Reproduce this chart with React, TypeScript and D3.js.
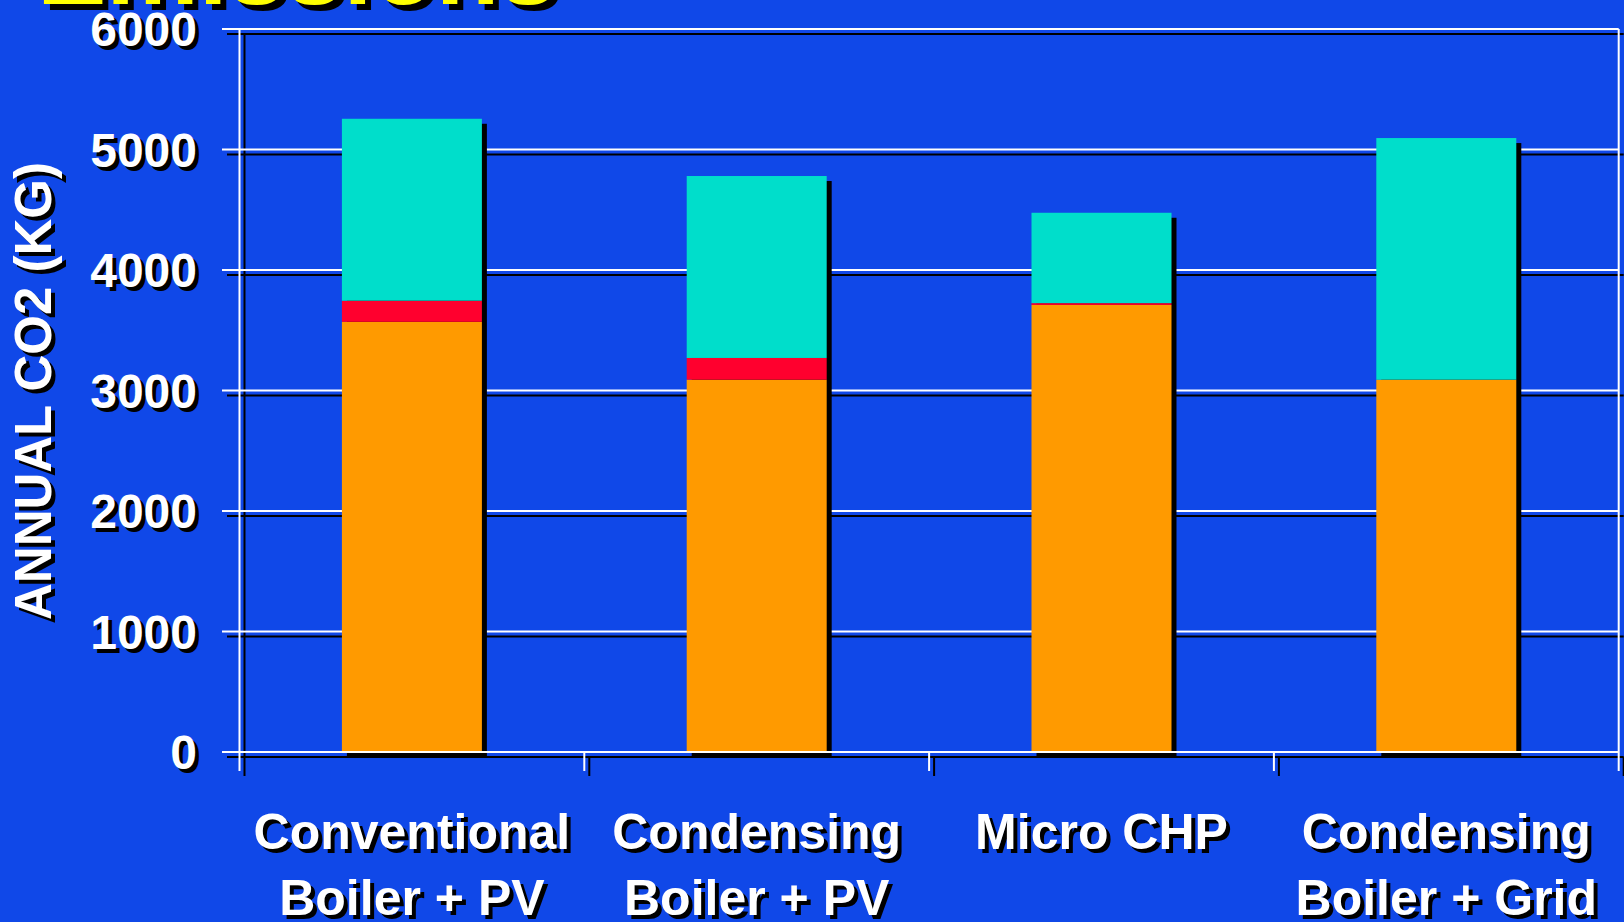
import React, { useEffect } from "react";
import * as d3 from "d3";

// categories (x axis, two-line labels)
const categories: string[][] = [
  ["Conventional", "Boiler + PV"],
  ["Condensing", "Boiler + PV"],
  ["Micro CHP"],
  ["Condensing", "Boiler + Grid"],
];

// stacked series, bottom to top (kg CO2 / year)
const heatingGas = [3570, 3090, 3710, 3090];
const auxiliary = [175, 180, 15, 0];
const electricity = [1510, 1510, 750, 2005];

const seriesColors = ["#FF9A00", "#FF002E", "#00DECB"];
const yTicks = [0, 1000, 2000, 3000, 4000, 5000, 6000];

const title = "Emissions";
const yTitle = "ANNUAL CO2 (KG)";

const W = 1624;
const H = 922;
const BG = "#1048E8";
const FONT = "'Liberation Sans', Arial, sans-serif";

const App: React.FC = () => {
  useEffect(() => {
    document.body.style.margin = "0";
    document.body.style.overflow = "hidden";
  }, []);

  const idx = categories.map((_, i) => String(i));
  const plotLeft = 239.5;
  const plotRight = 1618.7;
  const x = d3.scaleBand<string>().domain(idx).range([plotLeft, plotRight]).paddingInner(0.594).paddingOuter(0.297);
  const xEdge = d3.scaleBand<string>().domain(idx).range([plotLeft, plotRight]).padding(0);
  const y = d3.scaleLinear().domain([0, 6000]).range([752, 29]);

  const rows = idx.map((k, i) => ({ k, a: heatingGas[i], b: auxiliary[i], c: electricity[i] }));
  const stack = d3.stack<any>().keys(["a", "b", "c"])(rows);

  const edges = [...idx.map((k) => xEdge(k)!), plotRight];
  const sh = 5;

  const shadowText = (props: any, text: string, key: string, off = 4) => (
    <g key={key}>
      <text {...props} transform={`translate(${off},${off}) ${props.transform || ""}`} fill="#000">
        {text}
      </text>
      <text {...props} fill={props.fill || "#fff"}>
        {text}
      </text>
    </g>
  );

  return (
    <svg width={W} height={H} style={{ display: "block" }} fontFamily={FONT} fontWeight="bold">
      <rect width={W} height={H} fill={BG} />

      {/* title, cut off at top */}
      {shadowText({ x: 37, y: 4, fontSize: 104, fill: "#FFFF00" }, title, "title", 6)}

      {/* grid shadows */}
      {yTicks.map((t) => (
        <line key={"gs" + t} x1={222 + sh} x2={plotRight + sh} y1={y(t) + sh} y2={y(t) + sh} stroke="#000" strokeWidth={2} />
      ))}
      <line x1={plotLeft + sh} x2={plotLeft + sh} y1={y(6000) + sh} y2={771 + sh} stroke="#000" strokeWidth={2} />
      {edges.slice(1).map((e, i) => (
        <line key={"ts" + i} x1={e + sh} x2={e + sh} y1={752 + sh} y2={771 + sh} stroke="#000" strokeWidth={2} />
      ))}

      {/* gridlines */}
      {yTicks.map((t) => (
        <line key={"g" + t} x1={222} x2={plotRight} y1={y(t)} y2={y(t)} stroke="#fff" strokeWidth={2} />
      ))}
      <line x1={plotLeft} x2={plotLeft} y1={y(6000)} y2={771} stroke="#fff" strokeWidth={2} />
      <line x1={plotRight} x2={plotRight} y1={y(6000)} y2={771} stroke="#fff" strokeWidth={2} />
      {edges.slice(1, -1).map((e, i) => (
        <line key={"t" + i} x1={e} x2={e} y1={752} y2={771} stroke="#fff" strokeWidth={2} />
      ))}

      {/* bar shadows */}
      {rows.map((r) => {
        const top = y(r.a + r.b + r.c);
        return (
          <rect key={"bs" + r.k} x={x(r.k)! + sh} y={top + sh} width={x.bandwidth()} height={y(0) - top} fill="#000" />
        );
      })}

      {/* stacked bars */}
      {stack.map((s, si) =>
        s.map((d, i) => (
          <rect
            key={`b${si}-${i}`}
            x={x(idx[i])!}
            y={y(d[1])}
            width={x.bandwidth()}
            height={Math.max(0, y(d[0]) - y(d[1]))}
            fill={seriesColors[si]}
          />
        ))
      )}

      {/* baseline over bars */}
      <line x1={222} x2={plotRight} y1={y(0)} y2={y(0)} stroke="#fff" strokeWidth={2} />

      {/* y tick labels */}
      {yTicks.map((t) =>
        shadowText({ x: 197, y: y(t) + 17, fontSize: 48, textAnchor: "end" }, String(t), "yl" + t)
      )}

      {/* y title */}
      {shadowText(
        { x: 0, y: 0, fontSize: 51, textAnchor: "middle", dy: "0.36em", transform: "translate(33,391) rotate(-90)" },
        yTitle,
        "yt"
      )}

      {/* category labels */}
      {categories.map((lines, i) => {
        const cx = x(idx[i])! + x.bandwidth() / 2;
        return lines.map((ln, li) =>
          shadowText({ x: cx, y: 849 + li * 66, fontSize: 50, textAnchor: "middle" }, ln, `c${i}-${li}`)
        );
      })}
    </svg>
  );
};

export default App;
